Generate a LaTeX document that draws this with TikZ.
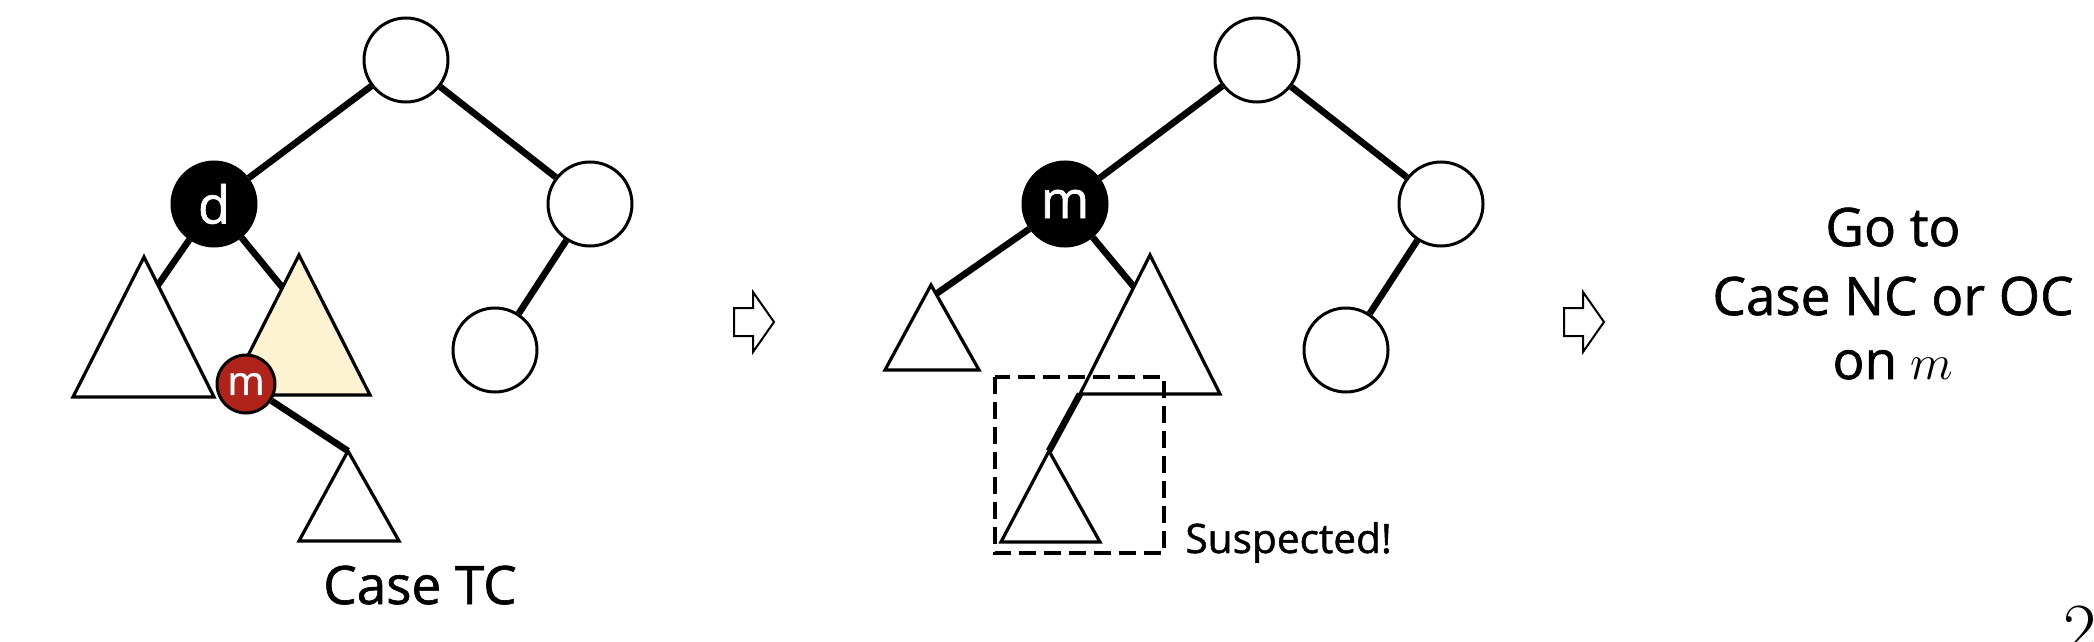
\documentclass[tikz,border=0pt]{standalone}
\usepackage{fontspec}
\setmainfont{Open Sans}[FakeBold=1.2]
\definecolor{cream}{HTML}{FDF3D3}
\definecolor{mred}{HTML}{B0231A}
\tikzset{
  wnode/.style={circle,draw=black,line width=1.5pt,fill=white,minimum size=42pt,inner sep=0pt},
  bnode/.style={circle,draw=black,fill=black,line width=1.5pt,minimum size=42pt,inner sep=0pt,text=white,font=\fontsize{26}{26}\selectfont},
  rnode/.style={circle,draw=black,fill=mred,line width=1.5pt,minimum size=29pt,inner sep=0pt,text=white,font=\fontsize{20}{20}\selectfont},
  tedge/.style={line width=3.3pt},
  tri/.style={draw=black,line width=1.6pt,line join=miter},
  bigtext/.style={font=\fontsize{26.5}{33}\selectfont,inner sep=0pt},
  blockarrow/.pic={\draw[line width=1pt,line join=miter] (0,-14) -- (19,-14) -- (19,-30) -- (40,0) -- (19,30) -- (19,14) -- (0,14) -- cycle;}
}
\begin{document}
\begin{tikzpicture}[x=0.5pt,y=-0.5pt]
\useasboundingbox (0,0) rectangle (2094,642);
% ---------- left tree ----------
\draw[tri,fill=white] (144,257) -- (73,397) -- (214,397) -- cycle;
\draw[tri,fill=cream] (299,255) -- (228,395) -- (370,395) -- cycle;
\draw[tri,fill=white] (348,451) -- (299,541) -- (399,541) -- cycle;
\coordinate (Lsl) at (158,285);
\coordinate (Lsr) at (282,287);
\coordinate (Lst) at (348,451);
\node[wnode] (Lroot) at (406,60) {};
\node[bnode] (Ld) at (214,204) {d};
\node[wnode] (Lr1) at (590,204) {};
\node[wnode] (Lr2) at (495,350) {};
\node[rnode] (Lm) at (246,384) {m};
\draw[tedge] (Lroot) -- (Ld);
\draw[tedge] (Lroot) -- (Lr1);
\draw[tedge] (Lr1) -- (Lr2);
\draw[tedge] (Ld) -- (Lsl);
\draw[tedge] (Ld) -- (Lsr);
\draw[tedge] (Lm) -- (Lst);
\node[bigtext,anchor=base] (caseTC) at (420,604) {Case TC};
% ---------- arrow 1 ----------
\pic at (734,322) {blockarrow};
% ---------- middle tree ----------
\draw[tri,fill=white] (931,285) -- (885,370) -- (979,370) -- cycle;
\draw[tri,fill=white] (1150,255) -- (1080,394) -- (1220,394) -- cycle;
\draw[tri,fill=white] (1049,451) -- (1001,542) -- (1100,542) -- cycle;
\coordinate (Msl) at (936,294);
\coordinate (Msr) at (1134,287);
\coordinate (Mbl) at (1080,394);
\coordinate (Mst) at (1049,451);
\node[wnode] (Mroot) at (1257,60) {};
\node[bnode] (Mm) at (1065,204) {m};
\node[wnode] (Mr1) at (1441,204) {};
\node[wnode] (Mr2) at (1346,350) {};
\draw[tedge] (Mroot) -- (Mm);
\draw[tedge] (Mroot) -- (Mr1);
\draw[tedge] (Mr1) -- (Mr2);
\draw[tedge] (Mm) -- (Msl);
\draw[tedge] (Mm) -- (Msr);
\draw[tedge] (Mbl) -- (Mst);
\draw[line width=2pt,dash pattern=on 8.5pt off 4pt] (995,377) rectangle (1164,553);
\node[font=\fontsize{20.3}{20.3}\selectfont,inner sep=0pt,anchor=base west] (susp) at (1185,553) {Suspected!};
% ---------- arrow 2 ----------
\pic at (1564,322) {blockarrow};
% ---------- right text ----------
\node[bigtext,anchor=base] (t1) at (1893,246) {Go to};
\node[bigtext,anchor=base] (t2) at (1893,315) {Case NC or OC};
\node[bigtext,anchor=base] (t3) at (1893,379) {on $m$};
% ---------- page number ----------
\node[font=\fontfamily{lmr}\fontsize{36}{36}\selectfont,inner sep=0pt,anchor=north west] (pg) at (2063,606) {2};
\end{tikzpicture}
\end{document}
